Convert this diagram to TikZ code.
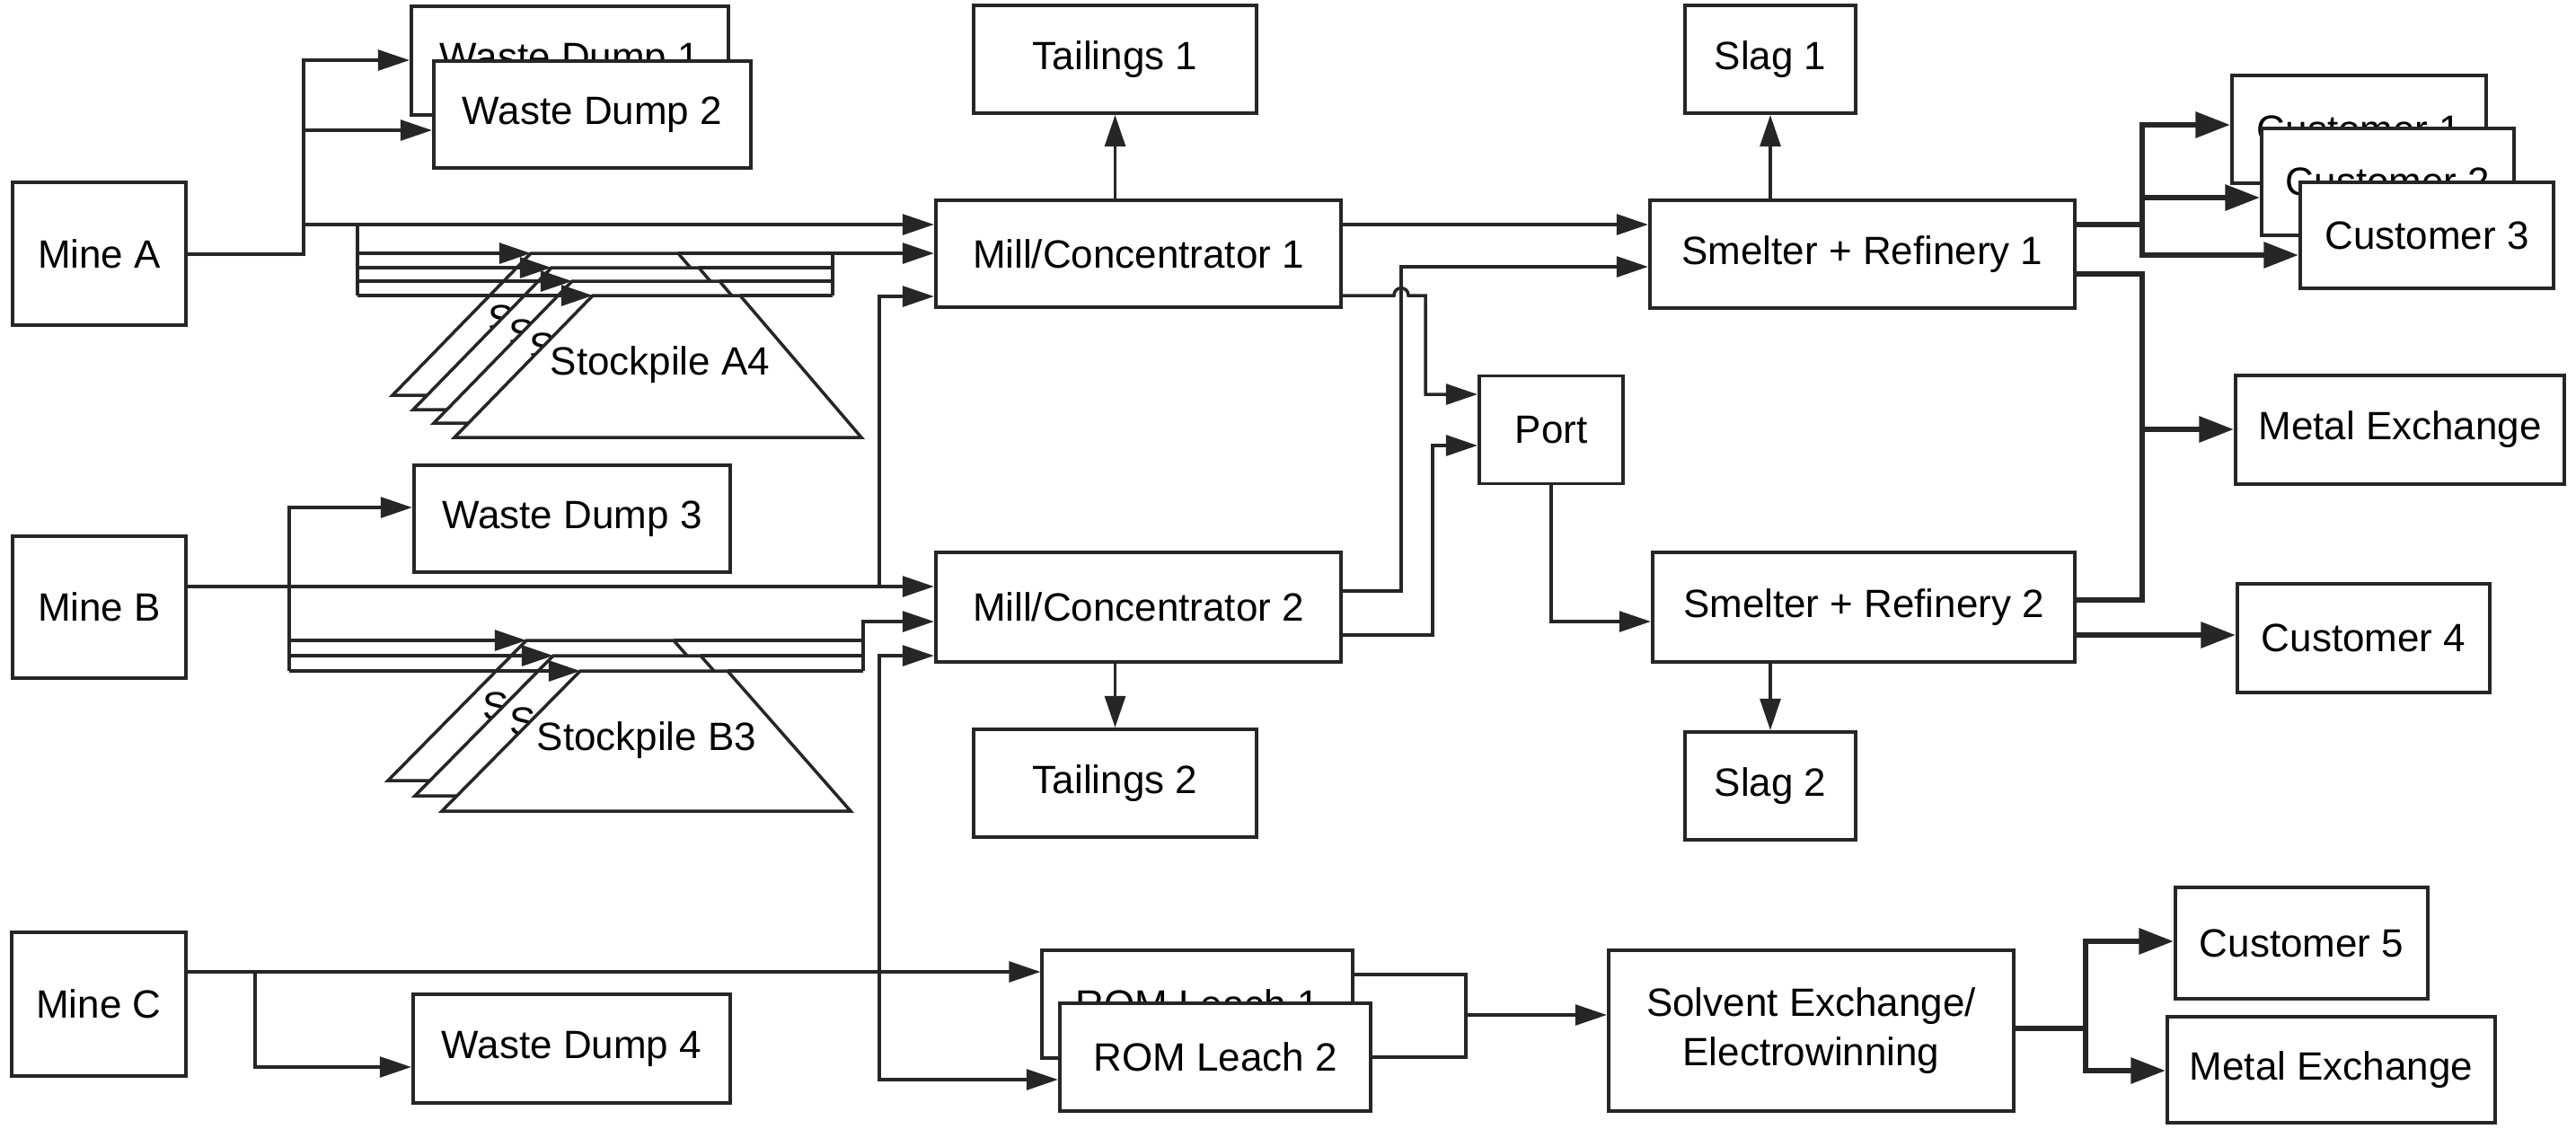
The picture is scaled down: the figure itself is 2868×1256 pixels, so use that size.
\documentclass[tikz,border=0pt]{standalone}
\usepackage{fontspec}
\setmainfont{Liberation Sans}
\usetikzlibrary{arrows.meta,calc}
\begin{document}
\begin{tikzpicture}[x=0.01cm,y=-0.01cm,
  box/.style={draw=black!85, fill=white, line width=1.1pt, inner sep=0pt, align=center,
    font=\fontsize{12.5}{15.5}\selectfont},
  conn/.style={draw=black!85, line width=1pt, -{Triangle[length=10pt,width=6.5pt]}},
  plain/.style={draw=black!85, line width=1pt},
  tconn/.style={draw=black!85, line width=1.7pt, -{Triangle[length=11pt,width=8pt]}},
  tplain/.style={draw=black!85, line width=1.7pt},
  pile/.style={draw=black!85, fill=white, line width=1pt},
  piletext/.style={font=\fontsize{12.5}{15}\selectfont, inner sep=0pt}
]
\path[use as bounding box] (0,0) rectangle (2868,1256);

% ---------- stockpiles A ----------
\foreach \x/\y/\n in {591/282/1, 614/298/2, 637/313/3, 660/329/4}{
  \draw[pile] (\x,\y) -- ++(164,0) -- ++(135,158) -- ++(-453,0) -- cycle;
  \node[piletext] (spA\n) at ($(\x,\y)+(75,77)$) {Stockpile A\n};
}
% ---------- stockpiles B ----------
\foreach \x/\y/\n in {586/713/1, 616/730/2, 646/747/3}{
  \draw[pile] (\x,\y) -- ++(164,0) -- ++(137,156) -- ++(-455,0) -- cycle;
  \node[piletext] (spB\n) at ($(\x,\y)+(74,77)$) {Stockpile B\n};
}

% ---------- boxes ----------
\node[box, minimum width=1.93cm, minimum height=1.59cm] (mineA) at (110.5,282.5) {Mine A};
\node[box, minimum width=1.93cm, minimum height=1.58cm] (mineB) at (110.5,676) {Mine B};
\node[box, minimum width=1.94cm, minimum height=1.60cm] (mineC) at (110,1118) {Mine C};

\node[box, minimum width=3.53cm, minimum height=1.21cm] (wd1) at (634.5,67.5) {Waste Dump 1};
\node[box, minimum width=3.53cm, minimum height=1.19cm] (wd2) at (659.5,127.5) {Waste Dump 2};
\node[box, minimum width=3.52cm, minimum height=1.19cm] (wd3) at (637,577.5) {Waste Dump 3};
\node[box, minimum width=3.53cm, minimum height=1.21cm] (wd4) at (636.5,1167.5) {Waste Dump 4};

\node[box, minimum width=3.15cm, minimum height=1.20cm] (tail1) at (1241.5,66) {Tailings 1};
\node[box, minimum width=3.15cm, minimum height=1.20cm] (tail2) at (1241.5,872) {Tailings 2};

\node[box, minimum width=4.51cm, minimum height=1.19cm] (mill1) at (1267.5,282.5) {Mill/Concentrator 1};
\node[box, minimum width=4.51cm, minimum height=1.22cm] (mill2) at (1267.5,676) {Mill/Concentrator 2};

\node[box, minimum width=1.60cm, minimum height=1.20cm] (port) at (1727,478.5) {Port};

\node[box, minimum width=1.90cm, minimum height=1.20cm] (slag1) at (1971,66) {Slag 1};
\node[box, minimum width=1.90cm, minimum height=1.20cm] (slag2) at (1971,875) {Slag 2};

\node[box, minimum width=4.73cm, minimum height=1.20cm] (smelt1) at (2073.5,283) {Smelter + Refinery 1};
\node[box, minimum width=4.70cm, minimum height=1.22cm] (smelt2) at (2075,676) {Smelter + Refinery 2};

\node[box, minimum width=2.83cm, minimum height=1.20cm] (cust1) at (2626.5,144) {Customer 1};
\node[box, minimum width=2.81cm, minimum height=1.19cm] (cust2) at (2658.5,202.5) {Customer 2};
\node[box, minimum width=2.82cm, minimum height=1.18cm] (cust3) at (2702,262) {Customer 3};
\node[box, minimum width=3.66cm, minimum height=1.21cm] (mex1) at (2672,478.5) {Metal Exchange};
\node[box, minimum width=2.81cm, minimum height=1.21cm] (cust4) at (2631.5,710.5) {Customer 4};

\node[box, minimum width=3.45cm, minimum height=1.20cm] (rom1) at (1333,1118) {ROM Leach 1};
\node[box, minimum width=3.46cm, minimum height=1.20cm] (rom2) at (1353,1177) {ROM Leach 2};
\node[box, minimum width=4.51cm, minimum height=1.79cm] (sxew) at (2016.5,1147.5) {Solvent Exchange/\\Electrowinning};
\node[box, minimum width=2.81cm, minimum height=1.24cm] (cust5) at (2562.5,1050) {Customer 5};
\node[box, minimum width=3.65cm, minimum height=1.18cm] (mex2) at (2595.5,1191) {Metal Exchange};

% ---------- Mine A ----------
\coordinate (jA) at (338,283);
\draw[conn] (mineA.east |- jA) -- (jA) -- (338,67) -- (wd1.west |- 0,67);
\draw[conn] (338,145) -- (wd2.west |- 0,145);
\draw[conn] (338,250) -- (mill1.west |- 0,250);
\draw[plain] (398,250) -- (398,329);
\foreach \x/\y in {591/282, 614/298, 637/313, 660/329}{
  \draw[conn] (398,\y) -- (\x,\y);
}
\foreach \x/\y in {778/298, 801/313, 824/329}{
  \draw[plain] (\x,\y) -- (927,\y);
}
\draw[plain] (927,329) -- (927,282);
\draw[conn] (755,282) -- (mill1.west |- 0,282);

% ---------- Mine B ----------
\draw[conn] (mineB.east |- 0,653) -- (mill2.west |- 0,653);
\draw[conn] (979,653) -- (979,330) -- (mill1.west |- 0,330);
\draw[conn] (322,747) -- (322,565) -- (wd3.west |- 0,565);
\foreach \x/\y in {586/713, 616/730, 646/747}{
  \draw[conn] (322,\y) -- (\x,\y);
}
\foreach \x/\y in {750/713, 780/730, 810/747}{
  \draw[plain] (\x,\y) -- (961,\y);
}
\draw[conn] (961,747) -- (961,692) -- (mill2.west |- 0,692);

% ---------- Mine C ----------
\draw[conn] (mineC.east |- 0,1082) -- (rom1.west |- 0,1082);
\draw[conn] (284,1082) -- (284,1188) -- (wd4.west |- 0,1188);
\draw[conn] (979,1082) -- (979,730) -- (mill2.west |- 0,730);
\draw[conn] (979,1082) -- (979,1202) -- (rom2.west |- 0,1202);

% ---------- Mills ----------
\draw[conn] (mill1.north -| tail1.south) -- (tail1.south);
\draw[conn] (mill1.east |- 0,250) -- (smelt1.west |- 0,250);
\draw[conn] (mill1.east |- 0,329) -- (1552,329) .. controls (1552,318) and (1568,318) .. (1568,329)
  -- (1587,329) -- (1587,439) -- (port.west |- 0,439);
\draw[conn] (mill2.east |- 0,658) -- (1560,658) -- (1560,297) -- (smelt1.west |- 0,297);
\draw[conn] (mill2.east |- 0,707) -- (1595,707) -- (1595,496) -- (port.west |- 0,496);
\draw[conn] (mill2.south -| tail2.north) -- (tail2.north);

% ---------- Port ----------
\draw[conn] (port.south) -- (port.south |- 0,692) -- (smelt2.west |- 0,692);

% ---------- Smelters ----------
\draw[conn] (smelt1.north -| slag1.south) -- (slag1.south);
\draw[conn] (smelt2.south -| slag2.north) -- (slag2.north);
\draw[tconn] (smelt1.east |- 0,250) -- (2385,250) -- (2385,139) -- (cust1.west |- 0,139);
\draw[tconn] (2385,220) -- (cust2.west |- 0,220);
\draw[tconn] (2385,250) -- (2385,284) -- (cust3.west |- 0,284);
\draw[tplain] (smelt1.east |- 0,305) -- (2385,305) -- (2385,668) -- (smelt2.east |- 0,668);
\draw[tconn] (2385,478) -- (mex1.west |- 0,478);
\draw[tconn] (smelt2.east |- 0,707) -- (cust4.west |- 0,707);

% ---------- ROM leach / SX-EW ----------
\draw[plain] (rom1.east |- 0,1085) -- (1632,1085) -- (1632,1177) -- (rom2.east |- 0,1177);
\draw[conn] (1632,1130) -- (sxew.west |- 0,1130);
\draw[tconn] (sxew.east |- 0,1145) -- (2322,1145) -- (2322,1048) -- (cust5.west |- 0,1048);
\draw[tconn] (2322,1145) -- (2322,1192) -- (mex2.west |- 0,1192);
\end{tikzpicture}
\end{document}
